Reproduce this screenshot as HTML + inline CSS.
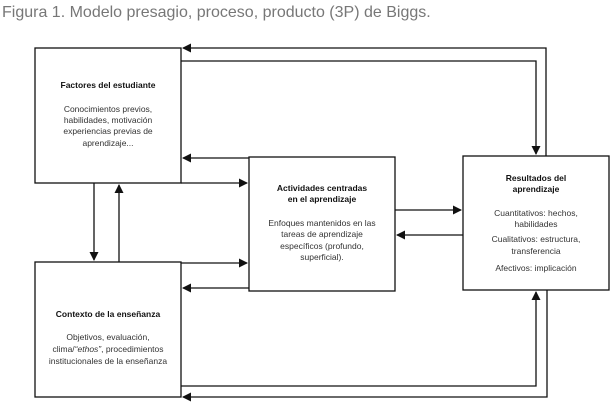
<!DOCTYPE html>
<html><head><meta charset="utf-8"><style>
html,body{margin:0;padding:0;background:#fff;}
svg{display:block;}
text{font-family:"Liberation Sans",sans-serif;}
.t{font-size:8.5px;font-weight:bold;fill:#111;}
.b{font-size:8.5px;fill:#333;}
</style></head><body>
<svg width="613" height="405" viewBox="0 0 613 405" xmlns="http://www.w3.org/2000/svg">
<defs>
<marker id="a" markerWidth="9" markerHeight="9" refX="8" refY="4.5" orient="auto" markerUnits="userSpaceOnUse">
<path d="M0,0 L9,4.5 L0,9 z" fill="#111"/></marker>
</defs>
<text x="2" y="17" style="font-size:16px;fill:#777;">Figura 1. Modelo presagio, proceso, producto (3P) de Biggs.</text>
<g fill="none" stroke="#111" stroke-width="1.3">
<rect x="35" y="48" width="146" height="135"/>
<rect x="249" y="157" width="146" height="134"/>
<rect x="463" y="156" width="146" height="134"/>
<rect x="35" y="262" width="146" height="135"/>
<polyline points="546,156 546,48 183,48" marker-end="url(#a)"/>
<polyline points="181,61 536,61 536,154" marker-end="url(#a)"/>
<line x1="249" y1="158" x2="183" y2="158" marker-end="url(#a)"/>
<line x1="181" y1="183" x2="247" y2="183" marker-end="url(#a)"/>
<line x1="94" y1="183" x2="94" y2="260" marker-end="url(#a)"/>
<line x1="119" y1="262" x2="119" y2="185" marker-end="url(#a)"/>
<line x1="181" y1="263" x2="247" y2="263" marker-end="url(#a)"/>
<line x1="249" y1="288" x2="183" y2="288" marker-end="url(#a)"/>
<line x1="395" y1="210" x2="461" y2="210" marker-end="url(#a)"/>
<line x1="463" y1="235" x2="397" y2="235" marker-end="url(#a)"/>
<polyline points="181,386 536,386 536,292" marker-end="url(#a)"/>
<polyline points="547,290 547,397 183,397" marker-end="url(#a)"/>
</g>
<g text-anchor="middle">
<text class="t" x="108" y="88">Factores del estudiante</text>
<text class="b" x="108" y="112">Conocimientos previos,</text>
<text class="b" x="108" y="123">habilidades, motivación</text>
<text class="b" x="108" y="134">experiencias previas de</text>
<text class="b" x="108" y="146">aprendizaje...</text>
<text class="t" x="322" y="191">Actividades centradas</text>
<text class="t" x="322" y="202">en el aprendizaje</text>
<text class="b" x="322" y="226">Enfoques mantenidos en las</text>
<text class="b" x="322" y="237">tareas de aprendizaje</text>
<text class="b" x="322" y="249">específicos (profundo,</text>
<text class="b" x="322" y="260">superficial).</text>
<text class="t" x="536" y="181">Resultados del</text>
<text class="t" x="536" y="192">aprendizaje</text>
<text class="b" x="536" y="216">Cuantitativos: hechos,</text>
<text class="b" x="536" y="227">habilidades</text>
<text class="b" x="536" y="242">Cualitativos: estructura,</text>
<text class="b" x="536" y="254">transferencia</text>
<text class="b" x="536" y="271">Afectivos: implicación</text>
<text class="t" x="108" y="317">Contexto de la enseñanza</text>
<text class="b" x="108" y="340">Objetivos, evaluación,</text>
<text class="b" x="108" y="352">clima/<tspan font-style="italic">“ethos”</tspan>, procedimientos</text>
<text class="b" x="108" y="364">institucionales de la enseñanza</text>
</g>
</svg>
</body></html>
